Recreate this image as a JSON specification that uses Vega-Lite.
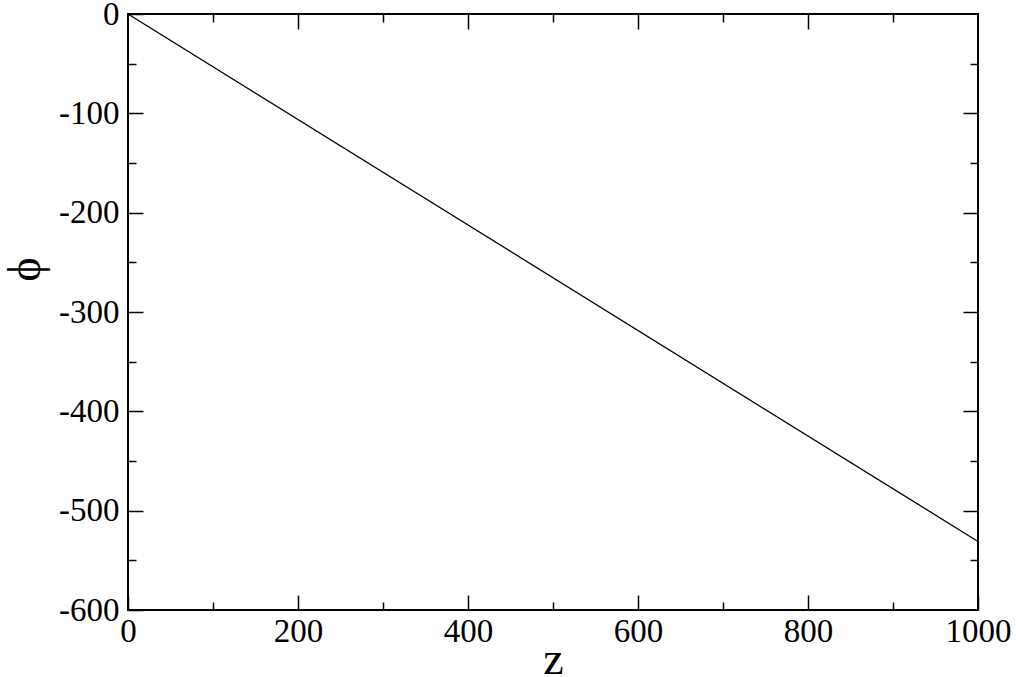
{
  "$schema": "https://vega.github.io/schema/vega-lite/v6.json",
  "width": 850,
  "height": 596,
  "autosize": "none",
  "padding": {"left": 128, "top": 14, "right": 38, "bottom": 67},
  "background": "white",
  "config": {
    "view": {"stroke": "black", "strokeWidth": 2},
    "axis": {
      "domain": false,
      "grid": false,
      "labelFont": "Liberation Serif",
      "labelFontSize": 33,
      "labelColor": "black",
      "tickColor": "black",
      "tickWidth": 1.5,
      "titleFont": "Liberation Serif",
      "titleFontSize": 46,
      "titleFontWeight": "normal",
      "titleColor": "black"
    }
  },
  "data": {"values": [{"z": 0, "phi": 0}, {"z": 1000, "phi": -531}]},
  "resolve": {"axis": {"x": "independent", "y": "independent"}},
  "layer": [
    {
      "mark": {"type": "line", "color": "black", "strokeWidth": 1.3},
      "encoding": {
        "x": {"field": "z", "type": "quantitative", "scale": {"domain": [0, 1000], "nice": false},
          "axis": {"orient": "bottom", "values": [0, 200, 400, 600, 800, 1000], "labelExpr": "datum.value + ''", "tickSize": -15, "labelPadding": 20, "labelFlush": false, "title": "z", "titleY": 63, "titleBaseline": "alphabetic"}},
        "y": {"field": "phi", "type": "quantitative", "scale": {"domain": [-600, 0], "nice": false},
          "axis": {"orient": "left", "values": [0, -100, -200, -300, -400, -500, -600], "labelExpr": "datum.value + ''", "tickSize": -15, "labelPadding": 24, "labelFlush": false, "title": "ϕ", "titleX": -103, "titleY": 255, "titleAngle": -90, "titleAlign": "center", "titleBaseline": "middle"}}
      }
    },
    {
      "mark": {"type": "line", "opacity": 0},
      "encoding": {
        "x": {"field": "z", "type": "quantitative",
          "axis": {"orient": "bottom", "values": [100, 300, 500, 700, 900], "tickSize": -8, "labels": false, "title": null}},
        "y": {"field": "phi", "type": "quantitative",
          "axis": {"orient": "left", "values": [-50, -150, -250, -350, -450, -550], "tickSize": -8, "labels": false, "title": null}}
      }
    },
    {
      "mark": {"type": "line", "opacity": 0},
      "encoding": {
        "x": {"field": "z", "type": "quantitative",
          "axis": {"orient": "top", "values": [200, 400, 600, 800], "tickSize": -15, "labels": false, "title": null}},
        "y": {"field": "phi", "type": "quantitative",
          "axis": {"orient": "right", "values": [-100, -200, -300, -400, -500], "tickSize": -15, "labels": false, "title": null}}
      }
    },
    {
      "mark": {"type": "line", "opacity": 0},
      "encoding": {
        "x": {"field": "z", "type": "quantitative",
          "axis": {"orient": "top", "values": [100, 300, 500, 700, 900], "tickSize": -8, "labels": false, "title": null}},
        "y": {"field": "phi", "type": "quantitative",
          "axis": {"orient": "right", "values": [-50, -150, -250, -350, -450, -550], "tickSize": -8, "labels": false, "title": null}}
      }
    }
  ]
}
